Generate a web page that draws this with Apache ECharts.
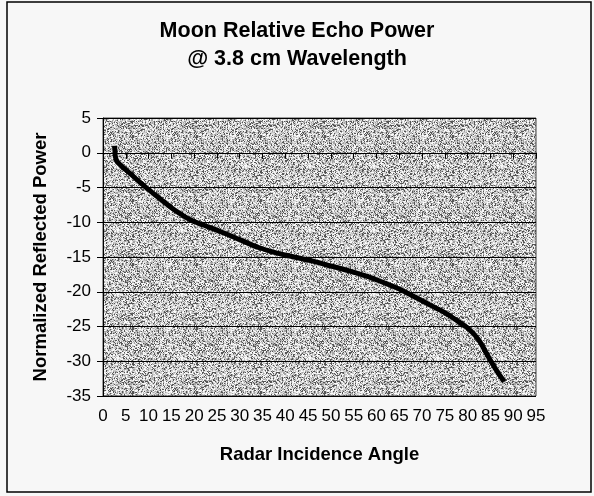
<!DOCTYPE html>
<html>
<head>
<meta charset="utf-8">
<script src="https://cdn.jsdelivr.net/npm/echarts@6/dist/echarts.min.js"></script>
<style>
  html, body { margin: 0; padding: 0; background: #f7f7f7; }
  #chart { width: 594px; height: 496px; }
</style>
</head>
<body>
<div id="chart"></div>
<script>
// incidence angle (deg) and normalized reflected power (dB)
var angle = [2.5, 2.6, 2.7, 3.0, 4.4, 6, 8, 10, 12.5, 15, 17, 19, 22, 26, 30, 34, 38, 42, 46, 50, 54, 58, 62, 65, 68, 72, 75, 78, 80.5, 82.5, 84.5, 86.5, 88];
var power = [1.0, 0.5, -0.5, -1.2, -2.1, -3.0, -4.2, -5.3, -6.6, -7.9, -8.8, -9.6, -10.4, -11.4, -12.5, -13.6, -14.4, -15.0, -15.6, -16.3, -17.0, -17.8, -18.8, -19.6, -20.6, -22.0, -23.0, -24.3, -25.5, -27.0, -29.3, -31.5, -32.9];

var titleText = 'Moon Relative Echo Power\n@ 3.8 cm Wavelength';
var xName = 'Radar Incidence Angle';
var yName = 'Normalized Reflected Power';

var points = [];
for (var i = 0; i < angle.length; i++) {
    points.push([angle[i], power[i]]);
}

// speckled gray fill like the scanned plot area (deterministic hash, not data)
function makeTexture() {
    var c = document.createElement('canvas');
    c.width = 64; c.height = 64;
    var ctx = c.getContext('2d');
    var img = ctx.createImageData(64, 64);
    var shades = [85, 165, 200, 225, 250];
    for (var y = 0; y < 64; y++) {
        for (var x = 0; x < 64; x++) {
            var h = (x * 374761393 + y * 668265263) | 0;
            h = (h ^ (h >>> 13)) * 1274126177;
            h = (h ^ (h >>> 16)) >>> 0;
            var v = shades[h % shades.length];
            var k = (y * 64 + x) * 4;
            img.data[k] = v; img.data[k + 1] = v; img.data[k + 2] = v; img.data[k + 3] = 255;
        }
    }
    ctx.putImageData(img, 0, 0);
    return c;
}

var font = '"Liberation Sans", Arial, sans-serif';
var chart = echarts.init(document.getElementById('chart'));
var option = {
    backgroundColor: '#f7f7f7',
    animation: false,
    title: {
        text: titleText,
        left: 'center',
        top: 12,
        textStyle: {
            fontFamily: font,
            fontSize: 21.5,
            fontWeight: 'bold',
            color: '#000',
            lineHeight: 28
        }
    },
    graphic: [{
        type: 'rect',
        shape: { x: 7, y: 2, width: 584, height: 490 },
        style: { fill: 'none', stroke: '#000', lineWidth: 1.5 },
        z: 100
    }],
    grid: {
        left: 103,
        top: 118,
        right: 58,
        bottom: 100,
        show: true,
        backgroundColor: { image: makeTexture(), repeat: 'repeat' },
        borderColor: '#444',
        borderWidth: 1
    },
    xAxis: {
        type: 'value',
        min: 0,
        max: 95,
        interval: 5,
        name: xName,
        nameLocation: 'middle',
        nameGap: 49,
        nameTextStyle: { fontFamily: font, fontSize: 18.5, fontWeight: 'bold', color: '#000' },
        axisLine: { lineStyle: { color: '#000', width: 1 } },
        axisTick: { show: true, length: 6, lineStyle: { color: '#000' } },
        axisLabel: { fontFamily: font, fontSize: 17, color: '#000', margin: 12 },
        splitLine: { show: false }
    },
    yAxis: {
        type: 'value',
        min: -35,
        max: 5,
        interval: 5,
        name: yName,
        nameLocation: 'middle',
        nameGap: 53,
        nameRotate: 90,
        nameTextStyle: { fontFamily: font, fontSize: 18.5, fontWeight: 'bold', color: '#000' },
        axisLine: { show: true, lineStyle: { color: '#000', width: 1 } },
        axisTick: { show: true, length: 6, lineStyle: { color: '#000' } },
        axisLabel: { fontFamily: font, fontSize: 17, color: '#000', margin: 12 },
        splitLine: { show: true, lineStyle: { color: '#000', width: 1 } }
    },
    series: [{
        type: 'line',
        data: points,
        showSymbol: false,
        smooth: 0.3,
        lineStyle: { color: '#000', width: 5 },
        itemStyle: { color: '#000' }
    }]
};
chart.setOption(option);
</script>
</body>
</html>
